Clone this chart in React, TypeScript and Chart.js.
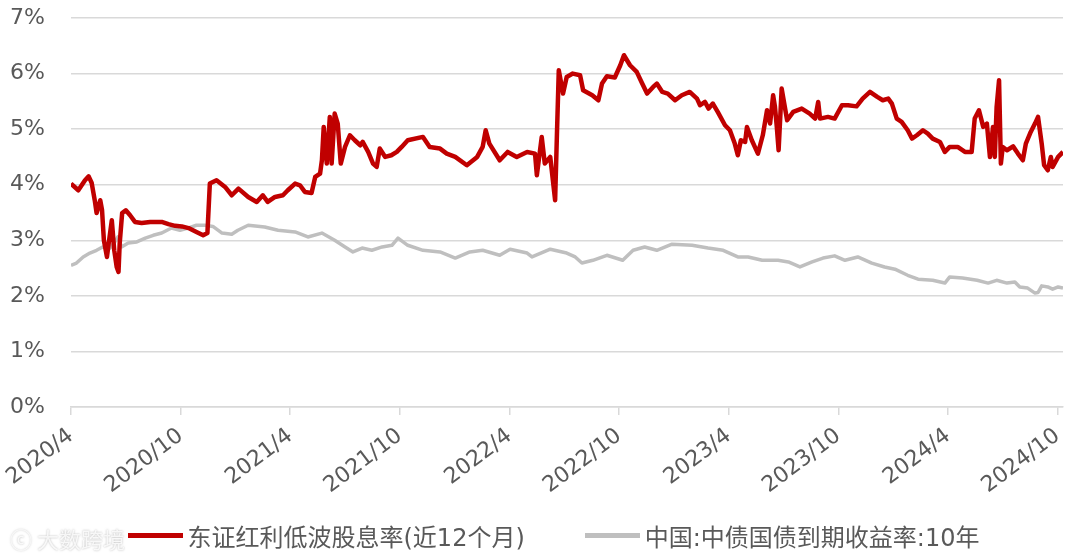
import React, { useEffect, useRef } from "react";
import { Chart, registerables } from "chart.js";

Chart.register(...registerables);

// 东证红利低波股息率(近12个月)
const redDates = [
  "2020-04-01","2020-04-13","2020-04-24","2020-04-30","2020-05-05","2020-05-10","2020-05-13","2020-05-19","2020-05-22","2020-05-25",
  "2020-05-30","2020-06-03","2020-06-08","2020-06-12","2020-06-16","2020-06-19","2020-06-21","2020-06-25","2020-07-01","2020-07-08",
  "2020-07-16","2020-07-27","2020-08-11","2020-08-30","2020-09-11","2020-09-22","2020-10-03","2020-10-14","2020-10-27","2020-11-08",
  "2020-11-15","2020-11-19","2020-11-30","2020-12-14","2020-12-25","2021-01-06","2021-01-22","2021-02-06","2021-02-16","2021-02-24",
  "2021-03-06","2021-03-19","2021-03-27","2021-04-09","2021-04-17","2021-04-25","2021-05-06","2021-05-12","2021-05-20","2021-05-23",
  "2021-05-26","2021-06-01","2021-06-06","2021-06-09","2021-06-14","2021-06-19","2021-06-24","2021-07-01","2021-07-09","2021-07-17",
  "2021-07-26","2021-07-30","2021-08-09","2021-08-17","2021-08-23","2021-08-28","2021-09-07","2021-09-17","2021-09-26","2021-10-04",
  "2021-10-14","2021-11-09","2021-11-20","2021-12-07","2021-12-18","2022-01-02","2022-01-21","2022-02-08","2022-02-17","2022-02-22",
  "2022-02-28","2022-03-15","2022-03-28","2022-04-13","2022-04-30","2022-05-13","2022-05-16","2022-05-24","2022-05-29","2022-06-08",
  "2022-06-16","2022-06-19","2022-06-22","2022-06-29","2022-07-05","2022-07-15","2022-07-27","2022-08-02","2022-08-17","2022-08-27",
  "2022-09-03","2022-09-11","2022-09-24","2022-10-03","2022-10-09","2022-10-19","2022-10-30","2022-11-09","2022-11-17","2022-11-27",
  "2022-12-03","2022-12-12","2022-12-21","2023-01-03","2023-01-14","2023-01-27","2023-02-09","2023-02-14","2023-02-22","2023-02-28",
  "2023-03-05","2023-03-13","2023-03-25","2023-04-03","2023-04-11","2023-04-16","2023-04-21","2023-04-28","2023-05-01","2023-05-09",
  "2023-05-19","2023-05-27","2023-06-04","2023-06-09","2023-06-14","2023-06-17","2023-06-20","2023-06-23","2023-06-28","2023-07-07",
  "2023-07-17","2023-08-01","2023-08-14","2023-08-23","2023-08-28","2023-09-01","2023-09-14","2023-09-25","2023-10-07","2023-10-17",
  "2023-11-01","2023-11-11","2023-11-23","2023-12-05","2023-12-14","2023-12-23","2023-12-29","2024-01-07","2024-01-15","2024-01-25",
  "2024-02-02","2024-02-10","2024-02-20","2024-02-28","2024-03-06","2024-03-18","2024-03-26","2024-04-04","2024-04-17","2024-04-29",
  "2024-05-10","2024-05-15","2024-05-22","2024-05-29","2024-06-05","2024-06-10","2024-06-15","2024-06-18","2024-06-21","2024-06-25",
  "2024-06-28","2024-07-01","2024-07-08","2024-07-18","2024-07-26","2024-08-04","2024-08-09","2024-08-17","2024-08-24","2024-08-29",
  "2024-09-05","2024-09-09","2024-09-15","2024-09-20","2024-09-23","2024-10-02","2024-10-10"
];
const redValues = [
  4.02,3.90,4.08,4.15,4.03,3.72,3.49,3.72,3.54,3.00,
  2.70,2.95,3.36,2.82,2.52,2.43,2.95,3.49,3.54,3.45,
  3.33,3.31,3.33,3.33,3.29,3.26,3.25,3.22,3.15,3.09,
  3.13,4.02,4.08,3.96,3.81,3.93,3.78,3.69,3.81,3.69,
  3.78,3.81,3.90,4.02,3.99,3.87,3.85,4.14,4.20,4.44,
  5.04,4.38,5.22,4.38,5.28,5.10,4.38,4.68,4.89,4.80,
  4.71,4.77,4.59,4.38,4.32,4.65,4.50,4.53,4.59,4.68,
  4.80,4.86,4.68,4.65,4.56,4.50,4.35,4.50,4.68,4.98,
  4.74,4.44,4.59,4.50,4.59,4.56,4.17,4.86,4.38,4.50,
  3.72,4.92,6.06,5.64,5.94,6.00,5.97,5.70,5.61,5.52,
  5.82,5.95,5.93,6.15,6.33,6.15,6.03,5.82,5.64,5.76,
  5.82,5.67,5.64,5.52,5.61,5.67,5.55,5.43,5.49,5.37,
  5.46,5.31,5.07,4.98,4.74,4.53,4.80,4.77,5.04,4.80,
  4.56,4.89,5.34,5.10,5.61,5.40,5.04,4.62,5.73,5.16,
  5.31,5.37,5.28,5.19,5.49,5.19,5.22,5.19,5.43,5.43,
  5.41,5.55,5.67,5.58,5.52,5.55,5.46,5.19,5.13,4.98,
  4.83,4.89,4.98,4.92,4.83,4.77,4.59,4.68,4.68,4.59,
  4.59,5.19,5.34,5.04,5.10,4.50,5.04,4.50,5.40,5.88,
  4.38,4.68,4.62,4.69,4.56,4.44,4.74,4.95,5.10,5.22,
  4.74,4.35,4.26,4.50,4.32,4.50,4.59
];

// 中国:中债国债到期收益率:10年
const grayDates = [
  "2020-04-01","2020-04-10","2020-04-21","2020-05-02","2020-05-13","2020-05-23","2020-06-05","2020-06-13","2020-06-18","2020-06-24",
  "2020-07-05","2020-07-19","2020-08-03","2020-08-16","2020-08-30","2020-09-16","2020-09-30","2020-10-13","2020-10-27","2020-11-11",
  "2020-11-24","2020-12-09","2020-12-25","2021-01-05","2021-01-22","2021-02-19","2021-03-11","2021-04-09","2021-04-30","2021-05-23",
  "2021-06-14","2021-07-01","2021-07-14","2021-07-29","2021-08-15","2021-09-02","2021-09-18","2021-09-28","2021-10-14","2021-11-09",
  "2021-12-07","2022-01-02","2022-01-26","2022-02-17","2022-03-15","2022-04-02","2022-04-30","2022-05-08","2022-06-08","2022-07-05",
  "2022-07-19","2022-07-30","2022-08-18","2022-09-11","2022-10-07","2022-10-24","2022-11-13","2022-12-03","2022-12-28","2023-01-31",
  "2023-02-27","2023-03-22","2023-04-16","2023-05-03","2023-05-26","2023-06-22","2023-07-09","2023-07-28","2023-08-18","2023-09-06",
  "2023-09-25","2023-10-12","2023-11-03","2023-11-26","2023-12-17","2024-01-04","2024-01-25","2024-02-12","2024-03-06","2024-03-26",
  "2024-04-04","2024-04-25","2024-05-19","2024-06-07","2024-06-21","2024-07-08","2024-07-21","2024-07-29","2024-08-12","2024-08-24",
  "2024-08-29","2024-09-05","2024-09-15","2024-09-23","2024-10-02","2024-10-10"
];
const grayValues = [
  2.55,2.59,2.70,2.77,2.82,2.88,2.86,2.97,3.06,2.88,
  2.95,2.97,3.04,3.09,3.13,3.22,3.18,3.22,3.27,3.27,
  3.25,3.13,3.11,3.18,3.27,3.24,3.18,3.15,3.06,3.13,
  3.00,2.88,2.79,2.86,2.82,2.88,2.91,3.04,2.91,2.82,
  2.79,2.68,2.79,2.82,2.73,2.84,2.77,2.70,2.84,2.77,
  2.70,2.59,2.64,2.73,2.64,2.82,2.88,2.82,2.93,2.91,
  2.86,2.82,2.70,2.70,2.64,2.64,2.61,2.52,2.61,2.68,
  2.72,2.64,2.70,2.59,2.52,2.48,2.37,2.30,2.28,2.23,
  2.34,2.32,2.28,2.23,2.28,2.23,2.25,2.16,2.14,2.05,
  2.06,2.18,2.16,2.12,2.16,2.14
];

const seriesNames = ["东证红利低波股息率(近12个月)", "中国:中债国债到期收益率:10年"];
const seriesColors = ["#C00000", "#BFBFBF"];
const yTicks = [0, 1, 2, 3, 4, 5, 6, 7];
const startYear = 2020;
const startMonth = 4;
const axisEndDate = "2024-10-10";

function toMonthIndex(s: string): number {
  const [y, m, d] = s.split("-").map(Number);
  return (y - startYear) * 12 + (m - startMonth) + (d - 1) / 30;
}

function monthLabel(v: number): string {
  const total = startMonth - 1 + Math.round(v);
  const y = startYear + Math.floor(total / 12);
  const m = (total % 12) + 1;
  return `${y}/${m}`;
}

const FONT = "'DejaVu Sans', 'Noto Sans CJK SC', sans-serif";
const LEGEND_FONT = "'DejaVu Sans', 'Noto Sans CJK SC', sans-serif";

export default function App() {
  const ref = useRef<HTMLCanvasElement | null>(null);
  useEffect(() => {
    if (!ref.current) return;
    const chart = new Chart(ref.current, {
      type: "line",
      data: {
        datasets: [
          {
            label: seriesNames[0],
            data: redDates.map((d, i) => ({ x: toMonthIndex(d), y: redValues[i] })),
            borderColor: seriesColors[0],
            backgroundColor: seriesColors[0],
            borderWidth: 4.5,
            pointRadius: 0,
            tension: 0,
            borderJoinStyle: "round",
          },
          {
            label: seriesNames[1],
            data: grayDates.map((d, i) => ({ x: toMonthIndex(d), y: grayValues[i] })),
            borderColor: seriesColors[1],
            backgroundColor: seriesColors[1],
            borderWidth: 3.5,
            pointRadius: 0,
            tension: 0,
            borderJoinStyle: "round",
          },
        ],
      },
      options: {
        animation: false,
        responsive: true,
        maintainAspectRatio: false,
        layout: { padding: { top: 18, right: 17, bottom: 0, left: 0 } },
        plugins: {
          tooltip: { enabled: false },
          legend: { display: false },
        },
        scales: {
          x: {
            type: "linear",
            min: 0,
            max: toMonthIndex(axisEndDate),
            border: { color: "#D9D9D9", width: 1.5 },
            grid: {
              drawOnChartArea: false,
              drawTicks: true,
              tickLength: 8,
              color: "#D9D9D9",
              lineWidth: 1.5,
            },
            afterFit: (s: any) => {
              s.paddingLeft = 0;
              s.paddingRight = 0;
              s.height = 152;
            },
            ticks: {
              stepSize: 6,
              includeBounds: false,
              autoSkip: false,
              minRotation: 37,
              maxRotation: 37,
              color: "#595959",
              font: { family: FONT, size: 22 },
              padding: 8,
              callback: (v: any) => monthLabel(Number(v)),
            },
          },
          y: {
            min: yTicks[0],
            max: yTicks[yTicks.length - 1],
            border: { display: false },
            grid: { color: "#D9D9D9", lineWidth: 1.5, drawTicks: false },
            afterFit: (s: any) => {
              s.width = 71;
              s.paddingTop = 0;
              s.paddingBottom = 0;
            },
            ticks: {
              stepSize: 1,
              color: "#595959",
              font: { family: FONT, size: 22 },
              padding: 26,
              callback: (v: any) => `${v}%`,
            },
          },
        },
      },
    } as any);
    return () => chart.destroy();
  }, []);

  return (
    <div style={{ position: "absolute", left: 0, top: 0, width: 1080, height: 559, background: "#fff" }}>
      <canvas ref={ref} />
      <div
        style={{
          position: "absolute",
          left: 0,
          right: 0,
          top: 518,
          height: 34,
          display: "flex",
          justifyContent: "center",
          alignItems: "center",
          paddingLeft: 27,
          boxSizing: "border-box",
          fontFamily: LEGEND_FONT,
          fontSize: 24,
          color: "#595959",
          whiteSpace: "nowrap",
        }}
      >
        {seriesNames.map((n, i) => (
          <div key={n} style={{ display: "flex", alignItems: "center", marginLeft: i === 0 ? 0 : 60 }}>
            <span style={{ display: "inline-block", width: 55, height: 5, background: seriesColors[i], marginRight: 5 }} />
            <span>{n}</span>
          </div>
        ))}
      </div>
      <div
        style={{
          position: "absolute",
          left: 10,
          top: 522,
          fontFamily: "'Noto Sans CJK SC', sans-serif",
          fontSize: 22,
          color: "rgba(255,255,255,0.85)",
          textShadow: "0 0 2px rgba(150,150,150,0.7)",
          pointerEvents: "none",
        }}
      >
        ⓒ 大数跨境
      </div>
    </div>
  );
}
